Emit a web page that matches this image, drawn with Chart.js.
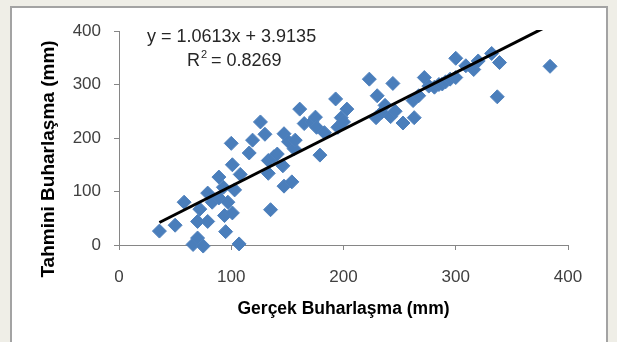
<!DOCTYPE html>
<html lang="tr">
<head>
<meta charset="UTF-8">
<title>Gerçek ve Tahmini Buharlaşma</title>
<script src="https://cdn.jsdelivr.net/npm/chart.js"></script>
<style>
    body {
        margin: 0;
        padding: 0;
        background-color: #efeee7;
        width: 617px;
        height: 342px;
        overflow: hidden;
        position: relative;
    }
    .frame {
        position: absolute;
        left: 10px;
        top: 6px;
        width: 594px;
        height: 360px;
        background-color: #ffffff;
        border: 2px solid #a3a3a3;
    }
    #chart {
        position: absolute;
        left: 0;
        top: 0;
    }
</style>
</head>
<body>
<div class="frame"></div>
<canvas id="chart" width="617" height="342"></canvas>

<script>
    // Observed (x) vs predicted (y) evaporation, mm
    const gercek = [36, 50, 58, 66, 70, 72, 70, 75, 79, 79, 83, 89, 89, 93, 94, 95, 97, 100, 101, 103,
                    101, 107, 108, 116, 119, 126, 130, 133, 135, 133, 138, 141, 146, 147, 147, 154, 151, 156, 157, 161,
                    165, 172, 175, 176, 179, 183, 193, 195, 198, 200, 203, 223, 230, 229, 234, 237, 242, 244, 246, 253,
                    262, 263, 267, 272, 276, 281, 285, 288, 291, 295, 300, 300, 309, 316, 320, 332, 339, 337, 384];
    const tahmini = [26, 37, 80, 1, 13, 67, 44, -2, 44, 97, 80, 127, 88, 108, 55, 25, 80, 190, 150, 103,
                     60, 2, 132, 172, 196, 230, 207, 134, 66, 158, 165, 170, 148, 208, 110, 118, 193, 180, 196, 254,
                     227, 230, 239, 220, 168, 210, 273, 220, 238, 230, 254, 310, 279, 238, 248, 261, 240, 302, 250, 228,
                     270, 238, 279, 313, 297, 295, 300, 301, 305, 310, 349, 313, 335, 328, 344, 358, 341, 277, 334];

    const slope = 1.0613;
    const intercept = 3.9135;
    const rKare = 0.8269;

    const xTicks = [0, 100, 200, 300, 400];
    const yTicks = [0, 100, 200, 300, 400];

    const points = gercek.map((x, i) => ({ x: x, y: tahmini[i] }));
    const xMin = Math.min(...gercek);
    const xMax = Math.max(...gercek);
    const trend = [
        { x: xMin, y: slope * xMin + intercept },
        { x: xMax, y: slope * xMax + intercept }
    ];

    const FONT = '"Liberation Sans", Arial, sans-serif';

    // equation text and rotated y title
    const labelsPlugin = {
        id: 'labels',
        afterDraw(chart) {
            const ctx = chart.ctx;
            const area = chart.chartArea;
            ctx.save();
            ctx.fillStyle = '#262626';
            ctx.font = '18px ' + FONT;
            ctx.textAlign = 'left';
            ctx.textBaseline = 'middle';
            ctx.fillText('y = ' + slope.toFixed(4) + 'x + ' + intercept.toFixed(4), area.left + 28, area.top + 6);
            const rx = area.left + 68;
            const ry = area.top + 30;
            ctx.fillText('R', rx, ry);
            const rw = ctx.measureText('R').width;
            ctx.font = '11px ' + FONT;
            ctx.fillText('2', rx + rw + 1, ry - 6);
            ctx.font = '18px ' + FONT;
            ctx.fillText(' = ' + rKare.toFixed(4), rx + rw + 6, ry);

            ctx.translate(49, 159);
            ctx.rotate(-Math.PI / 2);
            ctx.textAlign = 'center';
            ctx.fillStyle = '#000000';
            ctx.font = 'bold 19px ' + FONT;
            ctx.fillText('Tahmini Buharlaşma (mm)', 0, 0);
            ctx.restore();
        }
    };

    new Chart(document.getElementById('chart'), {
        type: 'scatter',
        data: {
            datasets: [
                {
                    type: 'line',
                    data: trend,
                    borderColor: '#000000',
                    borderWidth: 3,
                    pointRadius: 0,
                    fill: false,
                    clip: 1
                },
                {
                    data: points,
                    pointStyle: 'rectRot',
                    pointRadius: 7,
                    pointHoverRadius: 7,
                    backgroundColor: '#4a7ebb',
                    borderColor: '#4f81bd',
                    borderWidth: 1,
                    clip: false
                }
            ]
        },
        options: {
            responsive: false,
            devicePixelRatio: 1,
            animation: false,
            layout: { padding: { left: 0, top: 31, right: 49, bottom: 21 } },
            plugins: {
                legend: { display: false },
                tooltip: { enabled: false }
            },
            scales: {
                x: {
                    type: 'linear',
                    min: 0,
                    max: 400,
                    afterFit(scale) { scale.height = 76; },
                    afterBuildTicks(scale) { scale.ticks = xTicks.map(v => ({ value: v })); },
                    border: { color: '#868686', width: 1 },
                    grid: { drawOnChartArea: false, tickLength: 5, color: '#868686' },
                    ticks: { color: '#404040', font: { family: FONT, size: 17 }, padding: 17 },
                    title: {
                        display: true,
                        text: 'Gerçek Buharlaşma (mm)',
                        color: '#000000',
                        font: { family: FONT, size: 17.5, weight: 'bold' },
                        padding: { top: 0, bottom: 1 }
                    }
                },
                y: {
                    type: 'linear',
                    min: 0,
                    max: 400,
                    afterFit(scale) { scale.width = 119; },
                    afterBuildTicks(scale) { scale.ticks = yTicks.map(v => ({ value: v })); },
                    border: { color: '#868686', width: 1 },
                    grid: { drawOnChartArea: false, tickLength: 5, color: '#868686' },
                    ticks: { color: '#404040', font: { family: FONT, size: 17 }, padding: 13 }
                }
            }
        },
        plugins: [labelsPlugin]
    });
</script>
</body>
</html>
